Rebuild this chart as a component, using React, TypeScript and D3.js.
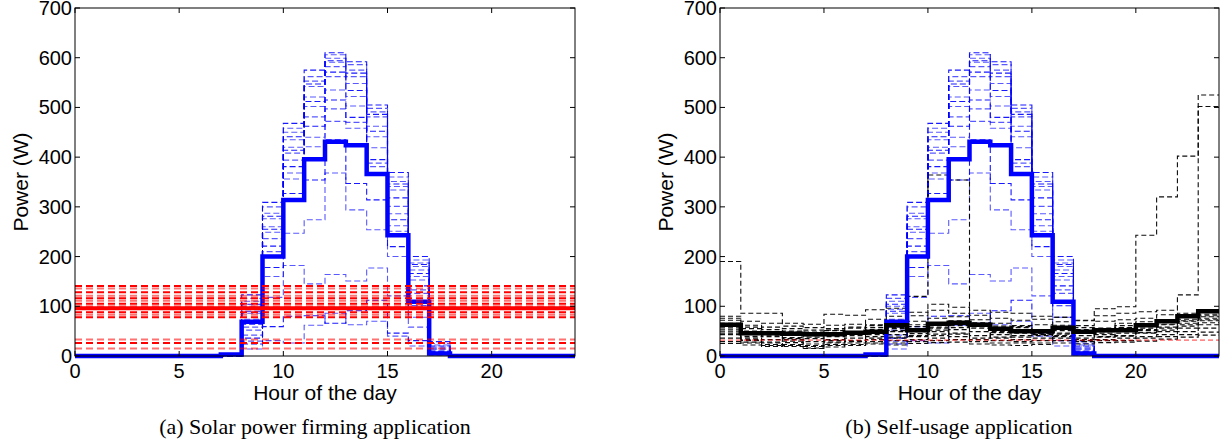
import React from 'react';
import * as d3 from 'd3';

// hourly PV mean (W), hours 0..23
const pvMean = [0, 0, 0, 0, 0, 0, 0, 3, 69, 200, 314, 396, 431, 424, 366, 243, 109, 5, 0, 0, 0, 0, 0, 0];

// PV scenarios, daylight hours 7..17 only (zero elsewhere)
const PV_START = 7;
const pvScenarios = [
    [3, 123, 309, 468, 575, 610, 592, 505, 369, 200, 29],
    [2, 116, 300, 458, 562, 606, 586, 498, 360, 193, 25],
    [2, 110, 287, 450, 553, 599, 575, 491, 351, 187, 22],
    [1, 104, 281, 441, 547, 594, 569, 486, 346, 184, 20],
    [1, 100, 276, 435, 542, 591, 562, 481, 341, 180, 18],
    [1, 94, 260, 420, 521, 582, 548, 462, 334, 173, 16],
    [0, 90, 255, 414, 512, 571, 534, 452, 318, 166, 14],
    [0, 86, 249, 408, 502, 562, 522, 441, 301, 160, 12],
    [0, 74, 236, 394, 481, 535, 503, 419, 286, 153, 10],
    [0, 64, 221, 381, 462, 515, 480, 395, 274, 141, 8],
    [0, 58, 210, 368, 440, 497, 470, 388, 262, 133, 7],
    [0, 52, 199, 356, 421, 472, 458, 381, 251, 126, 6],
    [0, 36, 178, 327, 354, 435, 347, 314, 220, 101, 5],
    [0, 30, 160, 247, 274, 368, 294, 254, 200, 78, 4],
    [0, 42, 118, 182, 145, 164, 151, 177, 121, 58, 9],
    [0, 24, 59, 80, 81, 66, 91, 112, 46, 31, 3],
    [0, 14, 31, 26, 62, 86, 63, 70, 40, 20, 2],
];

// firming targets (constant over the day)
const firmLevels = [141, 136, 128, 121, 116, 111, 105, 100, 88, 83, 78, 33, 26, 15];
const firmMean = 96;

// household load
const loadMean = [63, 46, 46, 45, 44, 44, 47, 49, 62, 52, 65, 67, 63, 55, 50, 50, 57, 49, 52, 52, 62, 70, 80, 90];
const loadScenarios = [
    [190, 86, 86, 60, 52, 55, 58, 63, 72, 120, 364, 354, 66, 60, 57, 52, 55, 50, 53, 56, 60, 64, 70, 76],
    [80, 70, 66, 66, 64, 84, 82, 93, 96, 81, 104, 98, 92, 88, 86, 80, 78, 71, 95, 99, 243, 320, 402, 525],
    [76, 62, 58, 55, 57, 62, 64, 74, 80, 88, 92, 86, 82, 76, 72, 74, 78, 72, 81, 86, 89, 92, 123, 502],
    [72, 58, 53, 50, 48, 52, 56, 61, 63, 70, 76, 79, 73, 66, 61, 63, 69, 61, 70, 73, 76, 83, 86, 88],
    [66, 50, 47, 44, 41, 46, 49, 53, 57, 59, 66, 71, 62, 56, 53, 51, 59, 53, 56, 61, 69, 73, 79, 84],
    [61, 55, 42, 48, 38, 51, 44, 57, 49, 63, 58, 64, 67, 52, 59, 47, 62, 57, 51, 66, 63, 68, 74, 81],
    [58, 43, 39, 37, 35, 39, 41, 46, 51, 49, 56, 61, 56, 49, 46, 46, 51, 46, 49, 51, 56, 63, 71, 79],
    [54, 39, 45, 33, 42, 28, 47, 36, 55, 41, 52, 44, 59, 38, 49, 43, 44, 49, 38, 57, 47, 58, 66, 73],
    [50, 36, 33, 30, 29, 31, 36, 39, 43, 45, 49, 53, 49, 43, 41, 41, 46, 41, 43, 46, 51, 56, 63, 71],
    [46, 33, 28, 35, 24, 33, 31, 43, 38, 52, 44, 57, 36, 47, 38, 44, 39, 33, 46, 40, 53, 52, 60, 67],
    [43, 31, 26, 23, 21, 26, 29, 33, 36, 39, 41, 46, 41, 36, 33, 36, 41, 36, 39, 41, 46, 49, 56, 63],
    [36, 26, 21, 19, 16, 21, 23, 26, 31, 33, 36, 39, 33, 31, 29, 31, 36, 31, 33, 36, 39, 43, 49, 56],
    [29, 28, 23, 21, 19, 23, 26, 29, 26, 29, 31, 33, 29, 26, 26, 26, 31, 29, 31, 31, 36, 39, 43, 48],
    [25, 22, 19, 27, 15, 18, 21, 24, 22, 25, 27, 28, 24, 22, 21, 23, 26, 24, 27, 28, 30, 34, 38, 42],
];
const loadRef = 32;

const xTicks = [0, 5, 10, 15, 20];
const yTicks = [0, 100, 200, 300, 400, 500, 600, 700];

const Y_TOP = 8;
const Y_BOT = 356;
const SANS = 'Liberation Sans, Arial, Helvetica, sans-serif';
const SERIF = 'Liberation Serif, Times New Roman, serif';

type Pt = [number, number];

function stepPoints(values: number[], start: number): Pt[] {
    const pts: Pt[] = values.map((v, i) => [start + i, v] as Pt);
    pts.push([start + values.length, values[values.length - 1]]);
    return pts;
}

function Panel({ id, x0, x1, caption, capX, mode }: { id: string; x0: number; x1: number; caption: string; capX: number; mode: 'a' | 'b' }) {
    const x = d3.scaleLinear().domain([0, 24]).range([x0, x1]);
    const y = d3.scaleLinear().domain([0, 700]).range([Y_BOT, Y_TOP]);
    const line = d3.line<Pt>().x(d => x(d[0])).y(d => y(d[1])).curve(d3.curveStepAfter);
    const tick = 5;

    const pvLines = pvScenarios.map((s, i) => (
        <path key={'pv' + i} d={line(stepPoints([0, ...s, 0], PV_START - 1)) || ''}
            fill="none" stroke="#0000ff" strokeWidth={1.1} strokeDasharray="6,3"
            opacity={i % 3 === 0 ? 0.9 : 0.65} />
    ));

    return (
        <g>
            <defs>
                <clipPath id={'clip-' + id}>
                    <rect x={x0} y={Y_TOP} width={x1 - x0} height={Y_BOT - Y_TOP + 3} />
                </clipPath>
            </defs>
            <g clipPath={`url(#clip-${id})`}>
                {pvLines}
                {mode === 'b' && loadScenarios.map((s, i) => (
                    <path key={'ld' + i} d={line(stepPoints(s, 0)) || ''} fill="none"
                        stroke="#000" strokeWidth={1.1} strokeDasharray="5,3" opacity={0.95} />
                ))}
                {mode === 'b' && (
                    <line x1={x(0)} x2={x(24)} y1={y(loadRef)} y2={y(loadRef)}
                        stroke="#ff0000" strokeWidth={1} strokeDasharray="5,3" opacity={0.8} />
                )}
                <path d={line(stepPoints(pvMean, 0)) || ''} fill="none" stroke="#0000ff" strokeWidth={4.5} />
                {mode === 'b' && (
                    <path d={line(stepPoints(loadMean, 0)) || ''} fill="none" stroke="#000" strokeWidth={4.5} />
                )}
                {mode === 'a' && firmLevels.map((v, i) => (
                    <line key={'f' + i} x1={x(0)} x2={x(24)} y1={y(v)} y2={y(v)}
                        stroke="#ff0000" strokeWidth={2} strokeDasharray="7,4"
                        opacity={i % 2 === 0 ? 1 : 0.55} />
                ))}
                {mode === 'a' && (
                    <line x1={x(0)} x2={x(24)} y1={y(firmMean)} y2={y(firmMean)} stroke="#ff0000" strokeWidth={4} />
                )}
            </g>
            <rect x={x0} y={Y_TOP} width={x1 - x0} height={Y_BOT - Y_TOP} fill="none" stroke="#000" strokeWidth={1} />
            {xTicks.map(t => (
                <g key={'xt' + t}>
                    <line x1={x(t)} x2={x(t)} y1={Y_BOT} y2={Y_BOT - tick} stroke="#000" />
                    <line x1={x(t)} x2={x(t)} y1={Y_TOP} y2={Y_TOP + tick} stroke="#000" />
                    <text x={x(t)} y={Y_BOT + 22} textAnchor="middle" fontFamily={SANS} fontSize={20}>{t}</text>
                </g>
            ))}
            {yTicks.map(t => (
                <g key={'yt' + t}>
                    <line x1={x0} x2={x0 + tick} y1={y(t)} y2={y(t)} stroke="#000" />
                    <line x1={x1} x2={x1 - tick} y1={y(t)} y2={y(t)} stroke="#000" />
                    <text x={x0 - 3} y={y(t) + 7} textAnchor="end" fontFamily={SANS} fontSize={20}>{t}</text>
                </g>
            ))}
            <text x={(x0 + x1) / 2} y={400} textAnchor="middle" fontFamily={SANS} fontSize={21}>Hour of the day</text>
            <text transform={`translate(${x0 - 47},${(Y_TOP + Y_BOT) / 2}) rotate(-90)`} textAnchor="middle"
                fontFamily={SANS} fontSize={21}>Power (W)</text>
            <text x={capX} y={434} textAnchor="middle" fontFamily={SERIF} fontSize={22}>{caption}</text>
        </g>
    );
}

export default function App() {
    return (
        <svg width={1223} height={442} style={{ position: 'absolute', left: 0, top: 0, background: '#fff' }}>
            <Panel id="a" x0={75} x1={575} caption="(a) Solar power firming application" capX={315} mode="a" />
            <Panel id="b" x0={720} x1={1219} caption="(b) Self-usage application" capX={959} mode="b" />
        </svg>
    );
}
